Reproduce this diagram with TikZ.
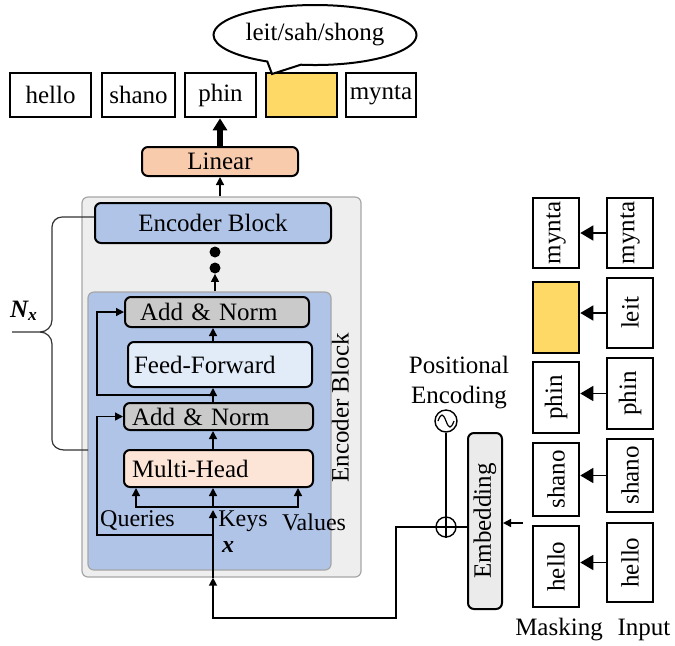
\documentclass[tikz,border=0pt]{standalone}
\usepackage{fontspec}
\setmainfont{Liberation Serif}
\usetikzlibrary{arrows.meta,shapes.callouts}

\definecolor{linfill}{HTML}{F8CBAD}
\definecolor{mhfill}{HTML}{FCE4D6}
\definecolor{blockblue}{HTML}{B0C4E8}
\definecolor{fffill}{HTML}{E2ECF9}
\definecolor{anfill}{HTML}{CACACA}
\definecolor{panelfill}{HTML}{EEEEEE}
\definecolor{maskyellow}{HTML}{FFD966}
\definecolor{embfill}{HTML}{EBEBEB}

\tikzset{
  wordbox/.style={draw, line width=1.3pt, minimum height=22pt, inner sep=0pt},
  vword/.style={draw, line width=1.3pt, rotate=90, minimum height=23pt, inner sep=0pt},
  block/.style={draw, line width=1pt, rounded corners=3pt, inner sep=0pt},
  lblock/.style={block, align=left, inner xsep=4pt},
  panel/.style={draw=black!35, line width=0.6pt, rounded corners=3pt},
  flow/.style={line width=0.7pt, -{Triangle[width=4pt,length=4pt]}},
  maskarrow/.style={line width=0.8pt, -{Triangle[width=7.5pt,length=6.5pt]}},
  smallword/.style={font=\fontsize{12}{14}\selectfont, inner sep=0pt},
}

\begin{document}
\begin{tikzpicture}[x=0.5pt, y=-0.5pt, font=\fontsize{12.5}{14}\selectfont]
		%%%%% START %%%%%
		\useasboundingbox (0,0) rectangle (675,645);
		
		% output words
		\node[wordbox, minimum width=40.5pt] (hello) at (50.5,95) {hello};
		\node[wordbox, minimum width=36.5pt] (shano) at (138.5,95) {shano};
		\node[wordbox, minimum width=35.5pt] (phin) at (220.5,95) {phin};
		\node[wordbox, minimum width=35.5pt, fill=maskyellow] (yel) at (301.5,95) {};
		\node[wordbox, minimum width=35pt] (mynta) at (381,95) {mynta};
		
		\coordinate (tip) at (272,74);
		\node[ellipse callout, draw, line width=1pt, fill=white, minimum width=101.5pt, minimum height=30pt,
		      inner sep=0pt, callout absolute pointer={(tip)}, callout pointer arc=20] (bubble) at (315,35) {leit/sah/shong};
		
		\node[block, fill=linfill, minimum width=78pt, minimum height=14.5pt] (linear) at (220,161.5) {Linear};
		\draw[line width=3pt, -{Triangle[width=7pt,length=6pt]}] (linear.north) -- (linear.north |- phin.south);
		
		% encoder stack
		\node[panel, fill=panelfill, minimum width=139.5pt, minimum height=190pt] (outer) at (221.5,387) {};
		\node[rotate=90] (enclabel) at (340,408) {Encoder Block};
		\node[panel, fill=blockblue, minimum width=121.5pt, minimum height=139pt] (inner) at (209.5,431) {};
		\draw[flow] (outer.north -| linear.south) -- (linear.south);
		
		\node[block, fill=blockblue, minimum width=118pt, minimum height=20pt] (eb) at (213,223) {Encoder Block};
		\node[circle, fill=black, inner sep=0pt, minimum size=5.5pt] (dotA) at (215,252) {};
		\node[circle, fill=black, inner sep=0pt, minimum size=5.5pt] (dotB) at (215,268) {};
		\draw[flow] (inner.north -| dotB) -- (dotB.south);
		
		\node[lblock, fill=anfill, inner xsep=7.5pt, text width=77pt, minimum height=15pt] (an1) at (217,312) {Add \& Norm};
		\node[lblock, fill=fffill, inner xsep=3pt, text width=86pt, minimum height=22.5pt] (ff) at (220,364.5) {Feed-Forward};
		\node[lblock, fill=anfill, text width=86.5pt, minimum height=13.5pt] (an2) at (218.5,416.5) {Add \& Norm};
		\node[lblock, fill=mhfill, text width=86.5pt, minimum height=18.5pt] (mh) at (218.5,468.5) {Multi-Head};
		
		\coordinate (spine) at (213,0);
		\draw[flow] (mh.north -| spine) -- (an2.south -| spine);
		\draw[flow] (an2.north -| spine) -- (ff.south -| spine);
		\draw[flow] (ff.north -| spine) -- (an1.south -| spine);
		
		\coordinate (rail) at (97,0);
		\coordinate (res1) at (213,395);
		\coordinate (res2) at (213,535);
		\draw[flow] (res1) -| (rail |- an1.west) -- (an1.west);
		\draw[flow] (res2) -| (rail |- an2.west) -- (an2.west);
		
		\coordinate (branch) at (213,507);
		\coordinate (qpt) at (136,507);
		\coordinate (vpt) at (298,507);
		\draw[flow] (branch) -- (branch |- mh.south);
		\draw[flow] (branch) -- (qpt) -- (qpt |- mh.south);
		\draw[flow] (branch) -- (vpt) -- (vpt |- mh.south);
		
		\node[smallword] (qlbl) at (137.5,520) {Queries};
		\node[smallword] (klbl) at (243,521) {Keys};
		\node[smallword] (vlbl) at (314,522) {Values};
		\node[smallword] (xlbl) at (228,547) {\textbf{\textit{x}}};
		
		% N_x brace
		\coordinate (bracetip) at (12,332);
		\coordinate (braceend) at (88,450);
		\draw[line width=0.6pt, black!80] (eb.west |- 0,217) -- (62,217) to[out=180,in=90] (52,227) -- (52,320)
		      to[out=270,in=0] (40,332) -- (bracetip);
		\draw[line width=0.6pt, black!80] (40,332) to[out=0,in=90] (52,344) -- (52,440)
		      to[out=270,in=180] (64,450) -- (braceend);
		\node (nx) at (24,311) {\textbf{\textit{N\textsubscript{x}}}};
		
		% embedding and positional encoding
		\node[block, fill=embfill, rotate=90, minimum width=88pt, minimum height=17pt] (emb) at (485,521) {Embedding};
		\node[circle, draw, line width=0.7pt, minimum size=10pt, inner sep=0pt] (plus) at (446,527) {};
		\draw[line width=0.7pt] (plus.north) -- (plus.south) (plus.west) -- (plus.east);
		\node[circle, draw, line width=0.7pt, minimum size=11pt, inner sep=0pt] (pe) at (446,421) {};
		\draw[line width=0.6pt] ([xshift=-4pt]pe.center) .. controls +(1.5pt,4pt) and +(-1.5pt,4pt) .. (pe.center)
		      .. controls +(1.5pt,-4pt) and +(-1.5pt,-4pt) .. ([xshift=4pt]pe.center);
		\node[align=center, font=\fontsize{12.5}{15}\selectfont] (pelbl) at (459,383) {Positional\\Encoding};
		
		\draw[line width=0.7pt] (pe.south) -- (plus.north);
		\draw[line width=0.7pt] (plus.east) -- (plus.east -| emb.north);
		\coordinate (embin) at (523,523);
		\draw[flow] (embin) -- (embin -| emb.south);
		
		\coordinate (xin) at (213,618);
		\coordinate (bend) at (396,618);
		\draw[flow] (plus.west) -| (bend) -- (xin) -- (xin |- outer.south);
		\draw[flow] (xin |- outer.south) -- ([yshift=-1.5pt]branch);
		
		% masking and input columns
		\node[vword, minimum width=35pt] (m5) at (556,233) {mynta};
		\node[vword, minimum width=35.5pt, fill=maskyellow] (m4) at (556,317.5) {};
		\node[vword, minimum width=35.5pt] (m3) at (556,397.5) {phin};
		\node[vword, minimum width=36.5pt] (m2) at (556,479.5) {shano};
		\node[vword, minimum width=40.5pt] (m1) at (556,566.5) {hello};
		
		\node[vword, minimum width=35pt] (i5) at (630,233) {mynta};
		\node[vword, minimum width=35pt] (i4) at (630,313) {leit};
		\node[vword, minimum width=35.5pt] (i3) at (630,393.5) {phin};
		\node[vword, minimum width=36.5pt] (i2) at (630,475.5) {shano};
		\node[vword, minimum width=39.5pt] (i1) at (630,562.5) {hello};
		
		\foreach \k in {1,...,5}
		  \draw[maskarrow] (i\k.north) -- (i\k.north -| m\k.south);
		
		\node (masklbl) at (559,630) {Masking};
		\node (inlbl) at (644,630) {Input};
		
		%%%%% END %%%%%
\end{tikzpicture}
\end{document}
